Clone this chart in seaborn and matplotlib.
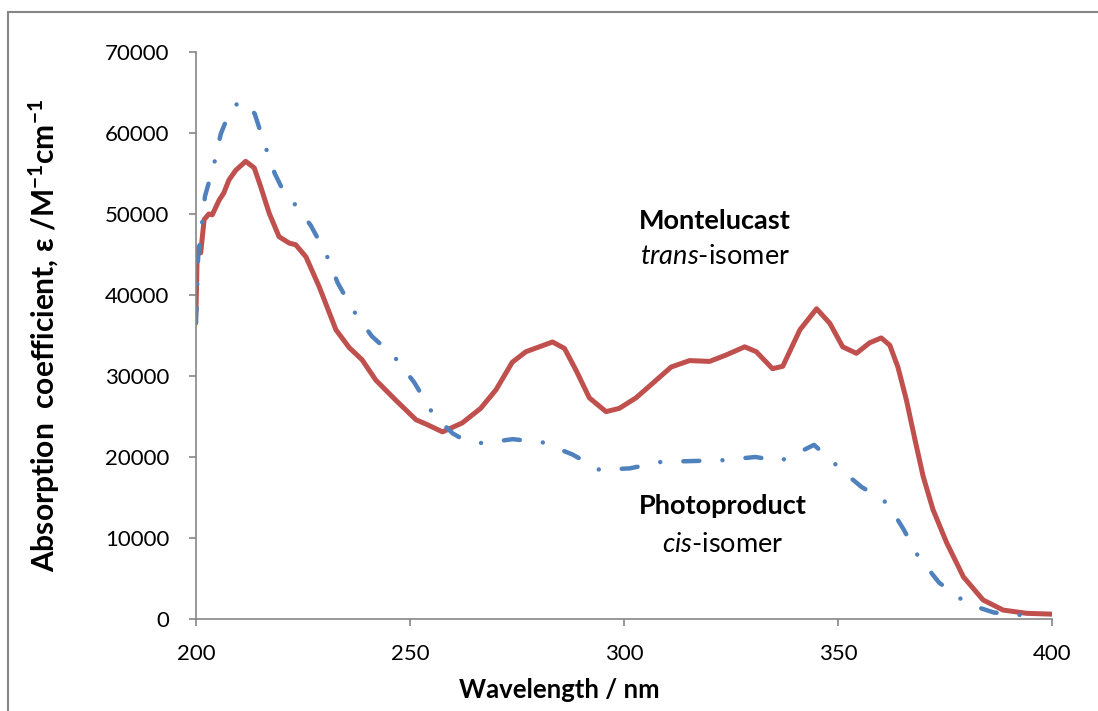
import matplotlib
matplotlib.use("Agg")
import matplotlib.pyplot as plt
import matplotlib.patches as mpatches
import seaborn as sns
import pandas as pd

# Montelukast (trans-isomer) spectrum
trans_nm = [200.0, 200.3, 200.7, 201.1, 201.9, 203.0, 203.8, 205.4, 206.5, 207.7, 209.3, 211.6,
            213.6, 215.1, 217.1, 219.4, 221.8, 223.3, 225.7, 228.8, 232.7, 235.8, 238.8, 242.0,
            246.7, 251.4, 254.0, 257.6, 262.2, 266.5, 270.1, 273.9, 277.1, 280.2, 283.3, 286.1,
            288.8, 291.9, 295.8, 298.9, 302.8, 306.7, 311.0, 315.3, 320.0, 323.9, 328.2, 330.9,
            334.7, 337.1, 341.1, 345.0, 348.1, 351.1, 354.3, 357.4, 360.1, 362.1, 364.0, 366.0,
            368.0, 369.9, 372.2, 375.4, 379.3, 383.9, 388.6, 394.1, 400.0]
trans_eps = [38000, 45500, 45900, 45200, 49300, 50000, 49900, 51700, 52600, 54200, 55400, 56500,
             55700, 53400, 50100, 47200, 46400, 46200, 44700, 41000, 35700, 33500, 32000, 29500,
             27000, 24600, 24000, 23100, 24200, 26000, 28300, 31700, 33000, 33600, 34200, 33400,
             30700, 27300, 25600, 26000, 27300, 29100, 31100, 31900, 31800, 32600, 33600, 33000,
             30900, 31200, 35700, 38300, 36500, 33600, 32800, 34100, 34700, 33800, 31100, 27000,
             22100, 17600, 13500, 9400, 5200, 2350, 1100, 700, 600]

# Photoproduct (cis-isomer) spectrum
cis_nm = [200.0, 200.5, 201.5, 202.1, 204.2, 205.8, 208.1, 210.1, 210.8, 213.7, 215.9, 218.4,
          221.0, 223.3, 226.8, 230.3, 233.1, 236.6, 241.1, 246.3, 251.0, 255.5, 260.0, 263.0,
          267.0, 274.0, 281.0, 288.0, 294.3, 301.4, 308.7, 316.1, 323.1, 330.7, 336.4, 339.5,
          344.4, 349.6, 351.2, 355.5, 360.6, 362.5, 365.4, 368.3, 370.3, 373.6, 378.5, 381.2,
          386.4, 392.5, 396.0]
cis_eps = [36500, 44700, 49300, 52200, 56100, 59900, 62900, 63800, 63900, 62400, 58800, 55000,
           52200, 51100, 48600, 45200, 41500, 38200, 34900, 32400, 29200, 25200, 22900, 22000,
           21700, 22200, 21800, 20300, 18400, 18600, 19400, 19500, 19600, 20000, 19500, 20200,
           21500, 19000, 18200, 16300, 14700, 13500, 11000, 8100, 6700, 4500, 2550, 1700,
           800, 500, 300]

x_ticks = [200, 250, 300, 350, 400]
y_ticks = [0, 10000, 20000, 30000, 40000, 50000, 60000, 70000]

sns.set_theme(style="white")
plt.rcParams["font.family"] = ["Lato", "DejaVu Sans"]
plt.rcParams["mathtext.fontset"] = "custom"
plt.rcParams["mathtext.rm"] = "Lato"
plt.rcParams["mathtext.it"] = "Lato:italic"
plt.rcParams["mathtext.bf"] = "Lato:bold"
plt.rcParams["text.color"] = "black"
plt.rcParams["axes.labelcolor"] = "black"

df_trans = pd.DataFrame({"nm": trans_nm, "eps": trans_eps})
df_cis = pd.DataFrame({"nm": cis_nm, "eps": cis_eps})

fig = plt.figure(figsize=(10.98, 7.11), dpi=100)
ax = fig.add_axes([0.1785, 0.1294, 0.9581 - 0.1785, 0.9269 - 0.1294])

red = "#C0504D"
blue = "#4F81BD"
sns.lineplot(data=df_trans, x="nm", y="eps", ax=ax, color=red, linewidth=3.6,
             estimator=None, solid_capstyle="round", solid_joinstyle="round")
sns.lineplot(data=df_cis, x="nm", y="eps", ax=ax, color=blue, linewidth=3.2,
             estimator=None, dashes=False)
ln = ax.get_lines()[-1]
ln.set_linestyle((0, (3.6, 5.2, 0.01, 5.2)))
ln.set_dash_capstyle("round")
ln.set_dash_joinstyle("round")

ax.set_xlim(200, 400)
ax.set_ylim(0, 70000)
ax.set_xticks(x_ticks)
ax.set_yticks(y_ticks)
ax.set_xticklabels([str(v) for v in x_ticks])
ax.set_yticklabels([str(v) for v in y_ticks])

axis_grey = "#868686"
for s in ["top", "right"]:
    ax.spines[s].set_visible(False)
for s in ["left", "bottom"]:
    ax.spines[s].set_color(axis_grey)
    ax.spines[s].set_linewidth(1.2)
ax.tick_params(axis="both", which="major", direction="out", length=5, width=1.2,
               color=axis_grey, labelsize=16, labelcolor="black")
ax.tick_params(axis="y", pad=14, left=True)
ax.tick_params(axis="x", pad=13, bottom=True)

ax.set_xlabel("Wavelength / nm", fontsize=18.5, fontweight="bold")
ax.xaxis.set_label_coords(0.4246, -0.125)
ax.xaxis.label.set_verticalalignment("center")
ax.set_ylabel(r"Absorption  coefficient, ε /M$^{\mathbf{-1}}$cm$^{\mathbf{-1}}$",
              fontsize=21.5, fontweight="bold", labelpad=31)

ax.text(321.2, 49150, "Montelucast", fontsize=19.5, fontweight="bold",
        ha="center", va="center")
ax.text(321.2, 44700, r"$\mathit{trans}$-isomer", fontsize=19.5, ha="center", va="center")
ax.text(323.0, 13950, "Photoproduct", fontsize=19.5, fontweight="bold",
        ha="center", va="center")
ax.text(323.0, 9140, r"$\mathit{cis}$-isomer", fontsize=19.5, ha="center", va="center")

frame = mpatches.Rectangle((8 / 1098, -0.1), 1.2, 1 - 12 / 711 + 0.1,
                           transform=fig.transFigure, fill=False,
                           edgecolor=axis_grey, linewidth=1.5, clip_on=False)
fig.patches.append(frame)

fig.savefig("out.png", dpi=100)
